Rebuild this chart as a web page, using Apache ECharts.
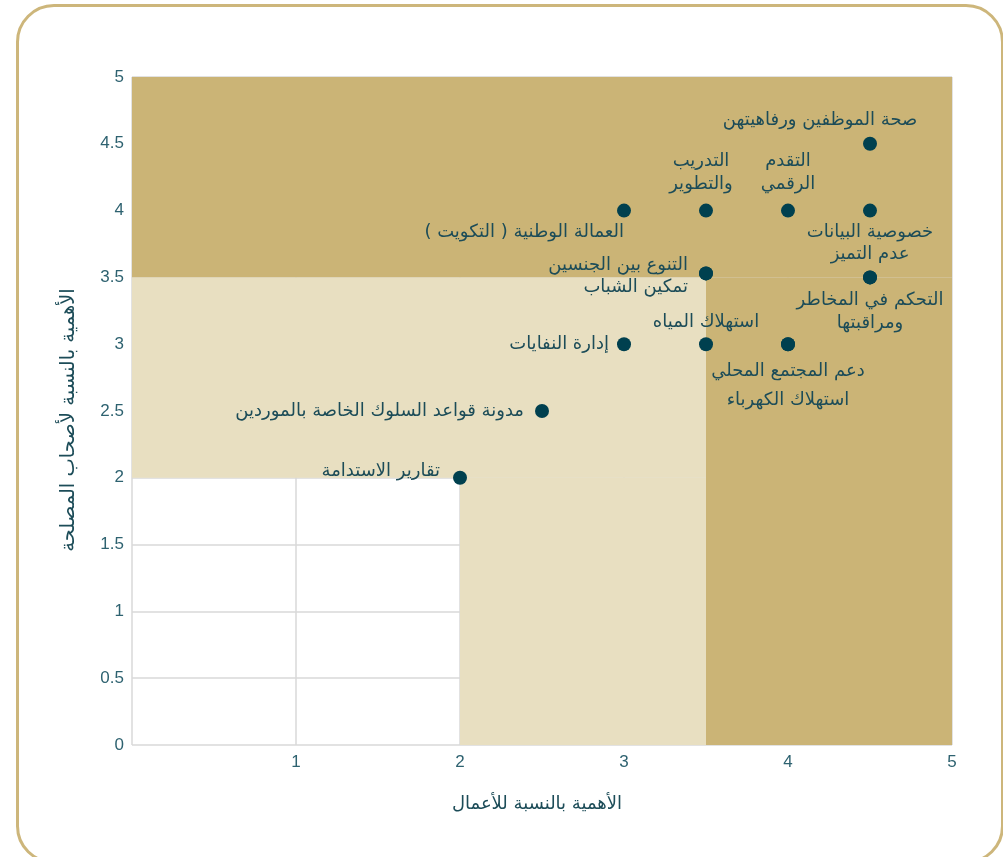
<!DOCTYPE html>
<html>
<head>
<meta charset="utf-8">
<script src="https://cdn.jsdelivr.net/npm/echarts@6/dist/echarts.min.js"></script>
<style>
  html, body { margin: 0; padding: 0; background: #fff; overflow: hidden; }
  #frame {
    position: absolute; left: 16px; top: 4px; width: 988px; height: 860px;
    box-sizing: border-box; border: 3px solid #cdb67b; border-radius: 38px;
  }
  #chart { position: absolute; left: 0; top: 0; width: 1003px; height: 857px; }
</style>
</head>
<body>
<div id="frame"></div>
<div id="chart"></div>
<script>
// topics (two labels may share one dot)
const topics = [
  'صحة الموظفين ورفاهيتهن',
  'التدريب\nوالتطوير',
  'التقدم\nالرقمي',
  'العمالة الوطنية ( التكويت )',
  'خصوصية البيانات',
  'عدم التميز',
  'التحكم في المخاطر\nومراقبتها',
  'التنوع بين الجنسين',
  'تمكين الشباب',
  'إدارة النفايات',
  'استهلاك المياه',
  'دعم المجتمع المحلي',
  'استهلاك الكهرباء',
  'مدونة قواعد السلوك الخاصة بالموردين',
  'تقارير الاستدامة'
]
// importance to business (x)
const businessScore = [4.5, 3.5, 4, 3, 4.5, 4.5, 4.5, 3.5, 3.5, 3, 3.5, 4, 4, 2.5, 2]
// importance to stakeholders (y)
const stakeholderScore = [4.5, 4, 4, 4, 4, 3.5, 3.5, 3.53, 3.53, 3, 3, 3, 3, 2.5, 2]

const xTicks = [0, 1, 2, 3, 4, 5]
const yTicks = [0, 0.5, 1, 1.5, 2, 2.5, 3, 3.5, 4, 4.5, 5]

const xName = 'الأهمية بالنسبة للأعمال'
const yName = 'الأهمية بالنسبة لأصحاب المصلحة'

// where each label sits around its dot (style only)
const labelPlace = [
  { position: 'top', offset: [-50, 1] },
  { position: 'top', offset: [-5, -2] },
  { position: 'top', offset: [0, -2] },
  { position: 'left', offset: [13, 22] },
  { position: 'bottom', offset: [0, -3] },
  { position: 'top', offset: [0, 1] },
  { position: 'bottom', offset: [0, -2] },
  { position: 'left', offset: [-5, -8] },
  { position: 'left', offset: [-5, 14] },
  { position: 'left', offset: [-2, 0] },
  { position: 'top', offset: [0, 3] },
  { position: 'bottom', offset: [0, 3] },
  { position: 'bottom', offset: [0, 32] },
  { position: 'left', offset: [-5, 0] },
  { position: 'left', offset: [-7, -6] }
]

const dark = '#cbb476'
const light = '#e8dfc1'
const ink = '#1c4c58'
const numInk = '#2e6270'

let myChart = echarts.init(document.getElementById('chart'))

let points = topics.map((t, i) => ({
  name: t,
  value: [businessScore[i], stakeholderScore[i]],
  label: {
    show: true,
    formatter: '{b}',
    position: labelPlace[i].position,
    offset: labelPlace[i].offset,
    distance: 6,
    color: ink,
    fontSize: 18,
    lineHeight: 23,
    fontFamily: 'DejaVu Sans, sans-serif',
    align: labelPlace[i].position === 'left' ? 'right' : 'center'
  }
}))

let option = {
  animation: false,
  grid: { left: 132, right: 51, top: 77, bottom: 112 },
  xAxis: {
    type: 'value', min: 0, max: 5, interval: 1,
    name: xName, nameLocation: 'middle', nameGap: 50,
    nameTextStyle: { color: ink, fontSize: 18, fontFamily: 'DejaVu Sans, sans-serif', padding: [0, 10, 0, 0] },
    axisLine: { show: false }, axisTick: { show: false },
    axisLabel: {
      color: numInk, fontSize: 17, fontFamily: 'Liberation Sans, Arial, sans-serif',
      margin: 9, formatter: v => (xTicks.indexOf(v) > 0 ? String(v) : '')
    },
    splitLine: { show: true, lineStyle: { color: '#d9d9d9', width: 1.5 } }
  },
  yAxis: {
    type: 'value', min: 0, max: 5, interval: 0.5,
    name: yName, nameLocation: 'middle', nameGap: 53, nameRotate: 90,
    nameTextStyle: { color: ink, fontSize: 19.5, fontFamily: 'DejaVu Sans, sans-serif', padding: [0, 18, 0, 0] },
    axisLine: { show: false }, axisTick: { show: false },
    axisLabel: {
      color: numInk, fontSize: 17, fontFamily: 'Liberation Sans, Arial, sans-serif',
      margin: 8, formatter: v => (yTicks.indexOf(v) >= 0 ? String(v) : '')
    },
    splitLine: { show: true, lineStyle: { color: '#d9d9d9', width: 1.5 } }
  },
  series: [{
    type: 'scatter',
    symbolSize: 14,
    itemStyle: { color: '#00404f', opacity: 1 },
    data: points,
    z: 5,
    markArea: {
      silent: true,
      z: 0,
      data: [
        [{ coord: [0, 3.5], itemStyle: { color: dark } }, { coord: [5, 5] }],
        [{ coord: [3.5, 0], itemStyle: { color: dark } }, { coord: [5, 3.5] }],
        [{ coord: [0, 2], itemStyle: { color: light } }, { coord: [3.5, 3.5] }],
        [{ coord: [2, 0], itemStyle: { color: light } }, { coord: [3.5, 2] }]
      ]
    }
  }]
}
myChart.setOption(option)
</script>
</body>
</html>
